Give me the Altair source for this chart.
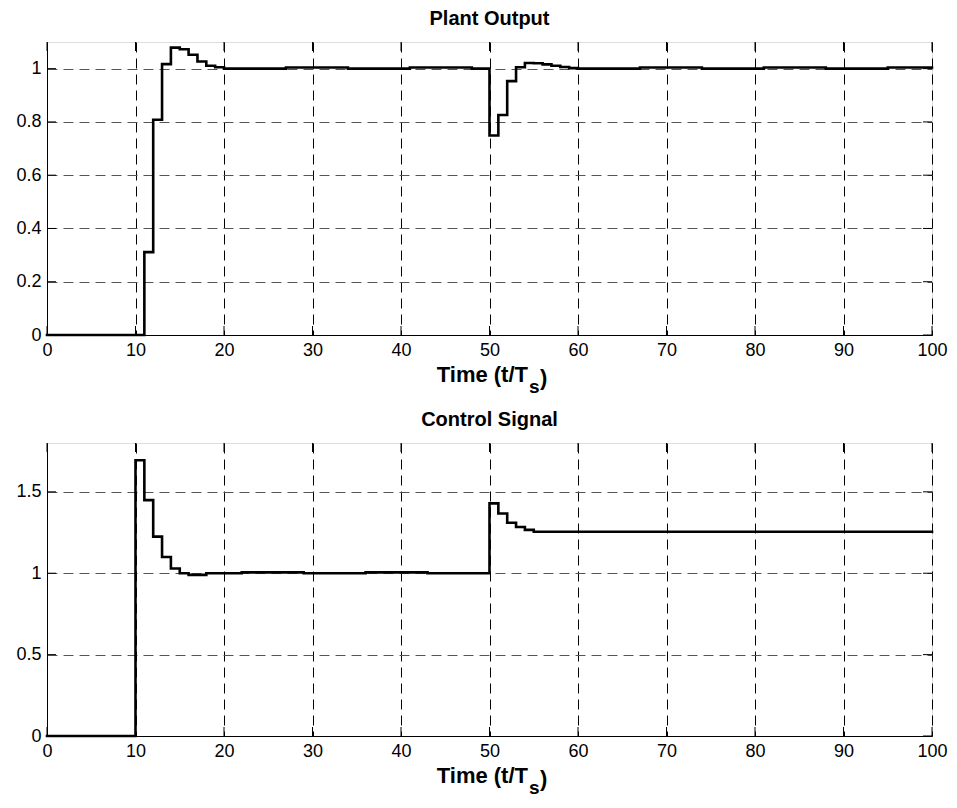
import altair as alt
import pandas as pd

FONT = "Liberation Sans"

# Plant output: sample index where the value changes, and the held value
plant_t = [0, 11, 12, 13, 14, 15, 16, 17, 18, 19, 20, 27, 34, 41, 48,
           50, 51, 52, 53, 54, 55, 56, 57, 58, 59, 60, 67, 74, 81, 88, 95, 100]
plant_y = [0.0, 0.311, 0.808, 1.017, 1.079, 1.073, 1.052, 1.027, 1.011, 1.005, 1.0,
           1.004, 1.0, 1.004, 1.0,
           0.749, 0.826, 0.953, 1.005, 1.021, 1.020, 1.016, 1.011, 1.006, 1.002, 1.0,
           1.004, 1.0, 1.004, 1.0, 1.004, 1.004]

# Control signal
ctrl_t = [0, 10, 11, 12, 13, 14, 15, 16, 18, 22, 29, 36, 43,
          50, 51, 52, 53, 54, 55, 100]
ctrl_y = [0.0, 1.694, 1.449, 1.225, 1.100, 1.029, 1.000, 0.990, 1.000, 1.005, 1.000, 1.005, 1.000,
          1.429, 1.367, 1.310, 1.284, 1.266, 1.255, 1.255]

x_ticks = [0, 10, 20, 30, 40, 50, 60, 70, 80, 90, 100]
plant_ticks = [0, 0.2, 0.4, 0.6, 0.8, 1]
ctrl_ticks = [0, 0.5, 1, 1.5]

titles = ["Plant Output", "Control Signal"]
xlabel_parts = ["Time (t/T", "s", ")"]

W, H = 885, 293
TICK = 9


def panel(t, y, title, ymax, yticks):
    df = pd.DataFrame({"t": t, "y": y})
    xs = alt.Scale(domain=[0, 100], nice=False, zero=False)
    ys = alt.Scale(domain=[0, ymax], nice=False, zero=False)
    common = dict(labelFont=FONT, labelFontSize=18, labelColor="black",
                  domainColor="black", domainWidth=1, ticks=False,
                  grid=True, gridDash=[10, 6], gridWidth=1, gridOpacity=1,
                  labelPadding=6, title=None)
    xaxis = alt.Axis(values=x_ticks, format="d", labelFlush=False,
                     gridColor="black", **common)
    yaxis = alt.Axis(values=yticks, format="~g", gridColor="#555", **common)

    line = alt.Chart(df).mark_line(
        interpolate="step-after", color="black", strokeWidth=2.6,
        strokeJoin="miter", strokeCap="square"
    ).encode(
        x=alt.X("t:Q", scale=xs, axis=xaxis),
        y=alt.Y("y:Q", scale=ys, axis=yaxis),
    )
    xt = pd.DataFrame({"t": x_ticks})
    yt = pd.DataFrame({"y": yticks})
    rule = dict(color="black", strokeWidth=1)
    xb = alt.Chart(xt).mark_rule(**rule).encode(
        x=alt.X("t:Q", scale=xs, axis=xaxis), y=alt.value(H), y2=alt.value(H - TICK))
    xtp = alt.Chart(xt).mark_rule(**rule).encode(
        x=alt.X("t:Q", scale=xs, axis=xaxis), y=alt.value(0), y2=alt.value(TICK))
    yl = alt.Chart(yt).mark_rule(**rule).encode(
        y=alt.Y("y:Q", scale=ys, axis=yaxis), x=alt.value(0), x2=alt.value(TICK))
    yr = alt.Chart(yt).mark_rule(**rule).encode(
        y=alt.Y("y:Q", scale=ys, axis=yaxis), x=alt.value(W), x2=alt.value(W - TICK))

    txt = dict(font=FONT, fontWeight="bold", color="black", baseline="alphabetic")
    ttl = alt.Chart(pd.DataFrame({"s": [title]})).mark_text(
        align="center", fontSize=20, **txt).encode(
        text="s:N", x=alt.value(W / 2), y=alt.value(-17))
    t1 = alt.Chart(pd.DataFrame({"s": [xlabel_parts[0]]})).mark_text(
        align="right", fontSize=22, **txt).encode(
        text="s:N", x=alt.value(481), y=alt.value(H + 47))
    t2 = alt.Chart(pd.DataFrame({"s": [xlabel_parts[1]]})).mark_text(
        align="left", fontSize=19, **txt).encode(
        text="s:N", x=alt.value(482), y=alt.value(H + 58))
    t3 = alt.Chart(pd.DataFrame({"s": [xlabel_parts[2]]})).mark_text(
        align="left", fontSize=22, **txt).encode(
        text="s:N", x=alt.value(493), y=alt.value(H + 50))

    return alt.layer(line, xb, xtp, yl, yr, ttl, t1, t2, t3).properties(
        width=W, height=H,
    )


top = panel(plant_t, plant_y, titles[0], 1.1, plant_ticks)
bottom = panel(ctrl_t, ctrl_y, titles[1], 1.8, ctrl_ticks)

chart = alt.vconcat(top, bottom, spacing=11).properties(
    padding={"left": 7, "top": 0, "right": 0, "bottom": 0}
).configure_view(stroke="black", strokeWidth=1).configure(background="white")

chart.save("out.html", embed_options={"renderer": "svg", "actions": False})
